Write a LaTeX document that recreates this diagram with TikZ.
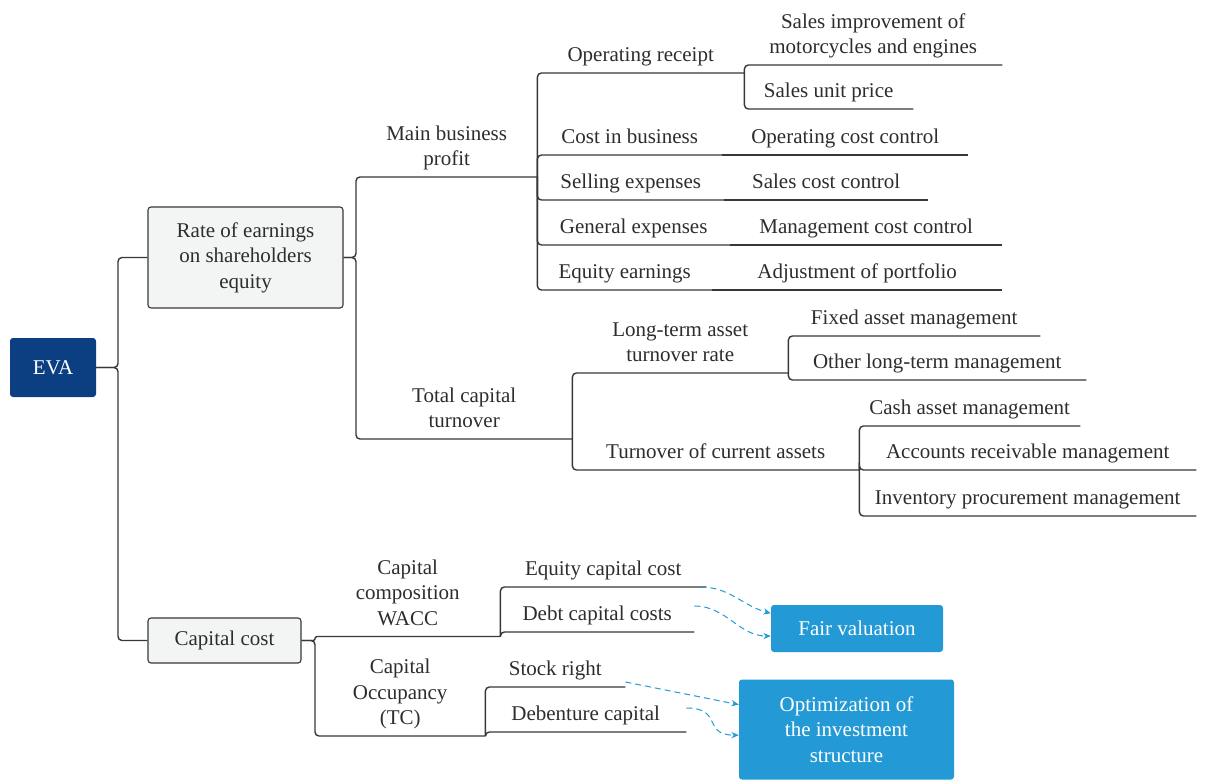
\documentclass[tikz,border=0pt]{standalone}
\usepackage{fontspec}
\setmainfont{Liberation Serif}
\usetikzlibrary{arrows.meta}
\definecolor{evablue}{RGB}{11,63,130}
\definecolor{skyblue}{RGB}{35,154,214}
\definecolor{boxgray}{RGB}{243,245,245}
\definecolor{linegray}{RGB}{55,55,55}
\definecolor{textgray}{RGB}{45,45,45}
\tikzset{
  topic/.style={
    draw=linegray, line width=1.1pt, fill=boxgray,
    rounded corners=3pt, text=textgray,
    align=center, inner sep=0pt
  },
  rootbox/.style={fill=evablue, rounded corners=3pt, text=white, align=center, inner sep=0pt},
  goalbox/.style={fill=skyblue, rounded corners=3pt, text=white, align=center, inner sep=0pt},
  leaf/.style={anchor=south west, inner sep=0pt, text depth=11pt, text=textgray, align=center},
  branch/.style={draw=linegray, line width=1.4pt, rounded corners=4pt},
  link/.style={-{Stealth[length=2.6mm, width=2.2mm]}, draw=skyblue, line width=1pt, dash pattern=on 6pt off 4pt}
}

\begin{document}
\begin{tikzpicture}[x=1pt, y=-1pt, font=\fontsize{21}{25.5}\selectfont]
\useasboundingbox (0,0) rectangle (1216,780);

% Root and first level
\node[rootbox, minimum width=86pt, minimum height=59pt] (eva) at (53,367.5) {EVA};
\node[topic, minimum width=195pt, minimum height=101pt] (roe) at (245.5,257.5) {Rate of earnings\\on shareholders\\equity};
\node[topic, minimum width=153pt, minimum height=45pt] (capcost) at (224.5,640.5) {Capital cost};

\coordinate (eva-j) at (118,367.5);
\draw[branch] (eva) -- (eva-j) |- (roe);
\draw[branch] (eva) -- (eva-j) |- (capcost);

% Rate of earnings: two branches
\node[leaf, minimum width=181pt] (mbp) at (356,177) {Main business\\profit};
\node[leaf, minimum width=216pt] (tct) at (356,439) {Total capital\\turnover};
\coordinate (roe-j) at (356,257.5);
\draw[branch] (roe) -- (roe-j) |- (mbp.south east);
\draw[branch] (roe) -- (roe-j) |- (tct.south east);

% Main business profit
\node[leaf, minimum width=207pt] (opr) at (537,73) {Operating receipt};
\node[leaf, minimum width=185pt] (cib) at (537,155) {Cost in business};
\node[leaf, minimum width=187pt] (sel) at (537,200) {Selling expenses};
\node[leaf, minimum width=193pt] (gen) at (537,245) {General expenses};
\node[leaf, minimum width=175pt] (eqe) at (537,290) {Equity earnings};
\draw[branch] (mbp.south east) |- (opr.south east);
\draw[branch] (mbp.south east) |- (cib.south east);
\draw[branch] (mbp.south east) |- (sel.south east);
\draw[branch] (mbp.south east) |- (gen.south east);
\draw[branch] (mbp.south east) |- (eqe.south east);

\node[leaf, minimum width=258pt] (sim) at (744,65) {Sales improvement of\\motorcycles and engines};
\node[leaf, minimum width=169pt] (sup) at (744,109) {Sales unit price};
\draw[branch] (opr.south east) |- (sim.south east);
\draw[branch] (opr.south east) |- (sup.south east);

\node[leaf, minimum width=246pt] (occ) at (722,155) {Operating cost control};
\node[leaf, minimum width=204pt] (scc) at (724,200) {Sales cost control};
\node[leaf, minimum width=272pt] (mcc) at (730,245) {Management cost control};
\node[leaf, minimum width=290pt] (adj) at (712,290) {Adjustment of portfolio};
\draw[branch] (cib.south east) -- (occ.south east);
\draw[branch] (sel.south east) -- (scc.south east);
\draw[branch] (gen.south east) -- (mcc.south east);
\draw[branch] (eqe.south east) -- (adj.south east);

% Total capital turnover
\node[leaf, minimum width=216pt] (lta) at (572,373) {Long-term asset\\turnover rate};
\node[leaf, minimum width=287pt] (tca) at (572,470) {Turnover of current assets};
\draw[branch] (tct.south east) |- (lta.south east);
\draw[branch] (tct.south east) |- (tca.south east);

\node[leaf, minimum width=252pt] (fam) at (788,336) {Fixed asset management};
\node[leaf, minimum width=298pt] (olm) at (788,380) {Other long-term management};
\draw[branch] (lta.south east) |- (fam.south east);
\draw[branch] (lta.south east) |- (olm.south east);

\node[leaf, minimum width=221pt] (cam) at (859,426) {Cash asset management};
\node[leaf, minimum width=337pt] (arm) at (859,470) {Accounts receivable management};
\node[leaf, minimum width=337pt] (ipm) at (859,516) {Inventory procurement management};
\draw[branch] (tca.south east) |- (cam.south east);
\draw[branch] (tca.south east) |- (arm.south east);
\draw[branch] (tca.south east) |- (ipm.south east);

% Capital cost
\node[leaf, minimum width=185pt] (wacc) at (315,636.5) {Capital\\composition\\WACC};
\node[leaf, minimum width=170pt] (tc) at (315,736) {Capital\\Occupancy\\(TC)};
\coordinate (cc-j) at (315,640.5);
\draw[branch, rounded corners=1.5pt] (capcost) -- (cc-j) |- (wacc.south east);
\draw[branch] (capcost) -- (cc-j) |- (tc.south east);

\node[leaf, minimum width=206pt] (ecc) at (500,587) {Equity capital cost};
\node[leaf, minimum width=194pt] (dcc) at (500,632) {Debt capital costs};
\draw[branch] (wacc.south east) |- (ecc.south east);
\draw[branch] (wacc.south east) |- (dcc.south east);

\node[leaf, minimum width=140pt] (sr) at (485,687) {Stock right};
\node[leaf, minimum width=201pt] (dc) at (485,732) {Debenture capital};
\draw[branch] (tc.south east) |- (sr.south east);
\draw[branch] (tc.south east) |- (dc.south east);

% Goals
\node[goalbox, minimum width=172pt, minimum height=47pt] (fair) at (857,628.5) {Fair valuation};
\node[goalbox, minimum width=215pt, minimum height=100pt] (optim) at (846.5,729.5) {Optimization of\\the investment\\structure};

\draw[link] ([xshift=-6pt]ecc.south east) to[out=0, in=165] (fair.170);
\draw[link] ([yshift=26pt]dcc.south east) to[out=0, in=180] (fair.185);
\draw[link] ([yshift=5pt]sr.south east) -- (optim.167);
\draw[link] ([yshift=24pt]dc.south east) to[out=0, in=180, looseness=1.6] (optim.183);

\end{tikzpicture}
\end{document}
